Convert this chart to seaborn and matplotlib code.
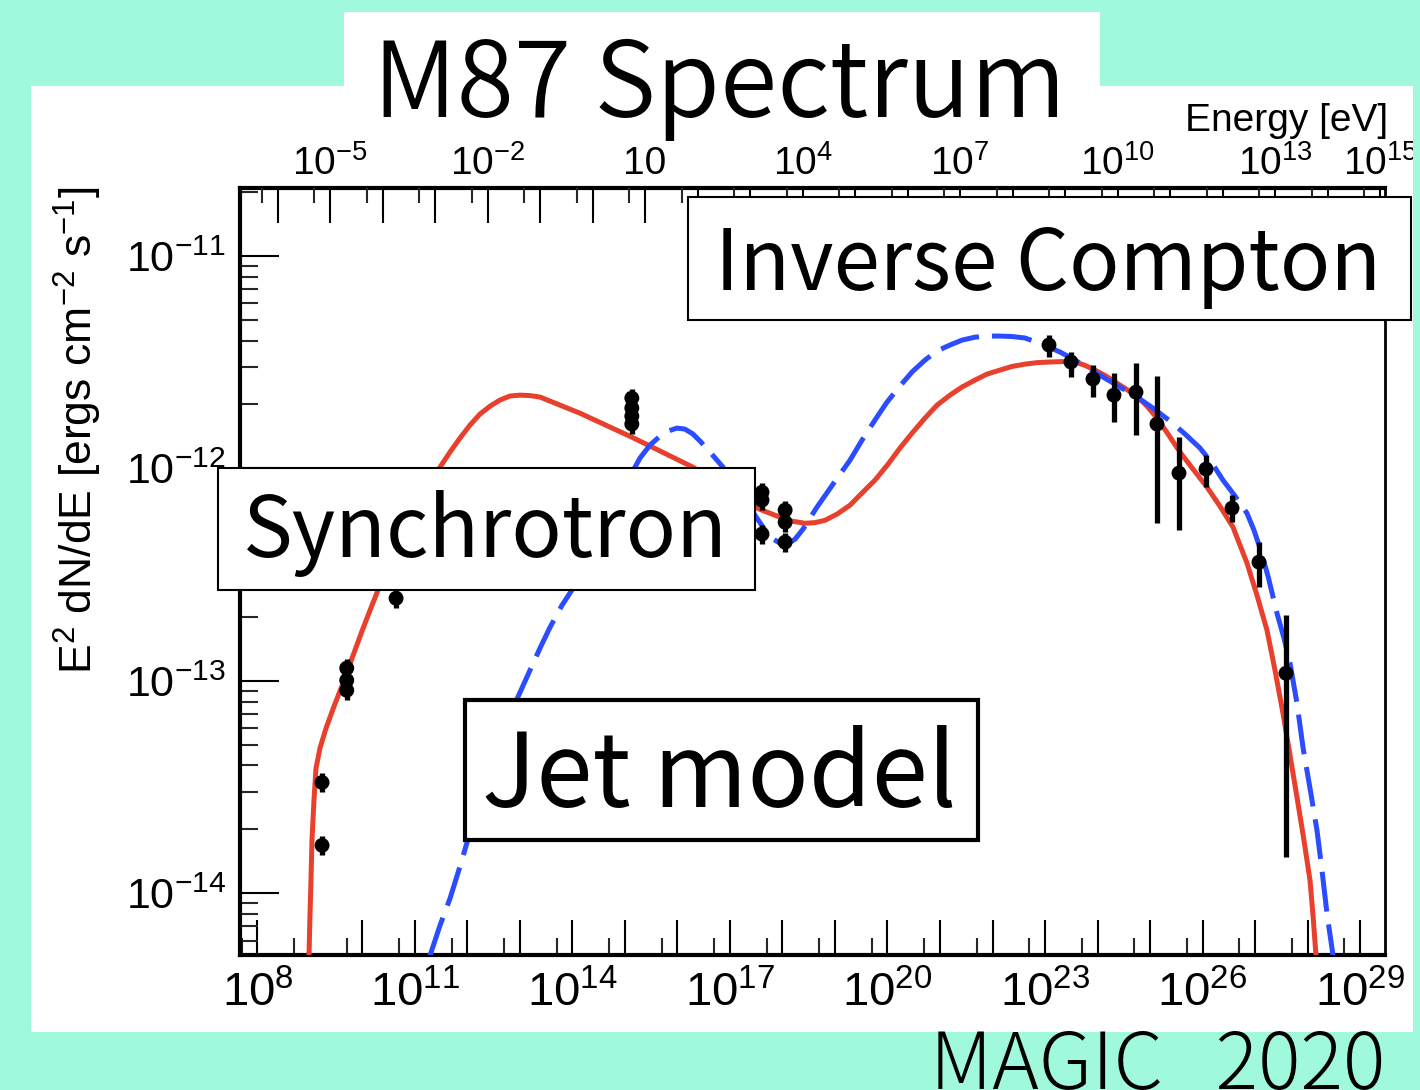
import numpy as np
import pandas as pd
import matplotlib
matplotlib.use("Agg")
import matplotlib.pyplot as plt
import seaborn as sns
from matplotlib import font_manager as fm
from matplotlib.patches import Rectangle
from matplotlib.ticker import FixedLocator, FuncFormatter

# ---------------- data ----------------
# model curves: log10(frequency / Hz), log10(E^2 dN/dE / erg cm^-2 s^-1)
red_lognu = [8.981, 9.000, 9.019, 9.038, 9.076, 9.114, 9.190, 9.305, 9.457, 9.629,
             9.800, 9.990, 10.181, 10.371, 10.619, 11.000, 11.476, 11.667, 11.857,
             12.048, 12.238, 12.429, 12.619, 12.810, 13.000, 13.190, 13.381, 13.762,
             14.143, 15.133, 16.295, 17.000, 17.514, 17.762, 17.952, 18.181, 18.429,
             18.619, 18.810, 19.038, 19.286, 19.514, 19.762, 20.010, 20.238, 20.467,
             20.714, 20.943, 21.190, 21.419, 21.667, 21.895, 22.143, 22.371, 22.619,
             22.848, 23.095, 23.324, 23.571, 23.743, 23.914, 24.162, 24.429, 24.752,
             24.943, 25.133, 25.343, 25.571, 25.819, 26.086, 26.333, 26.581, 26.714,
             26.848, 27.038, 27.229, 27.381, 27.533, 27.667, 27.800, 27.933, 28.048,
             28.105, 28.162]
red_logflux = [-14.293, -14.104, -13.939, -13.751, -13.562, -13.412, -13.317, -13.223,
               -13.120, -13.011, -12.894, -12.766, -12.644, -12.526, -12.394, -12.211,
               -11.994, -11.923, -11.857, -11.796, -11.744, -11.707, -11.678, -11.659,
               -11.655, -11.657, -11.664, -11.702, -11.740, -11.853, -11.994, -12.102,
               -12.187, -12.211, -12.229, -12.248, -12.258, -12.255, -12.244, -12.215,
               -12.173, -12.116, -12.055, -11.980, -11.904, -11.834, -11.763, -11.702,
               -11.655, -11.617, -11.584, -11.556, -11.537, -11.520, -11.509, -11.502,
               -11.499, -11.497, -11.499, -11.513, -11.532, -11.565, -11.608, -11.659,
               -11.707, -11.763, -11.838, -11.923, -12.003, -12.088, -12.178, -12.276,
               -12.361, -12.446, -12.597, -12.762, -12.950, -13.153, -13.350, -13.548,
               -13.751, -13.939, -14.104, -14.293]

blue_lognu = [11.286, 11.476, 11.667, 11.857, 12.048, 12.238, 12.429, 12.619, 12.810,
              13.000, 13.190, 13.381, 13.571, 13.800, 14.048, 14.333, 14.619, 14.905,
              15.190, 15.286, 15.476, 15.667, 15.819, 15.990, 16.143, 16.295, 16.429,
              16.619, 16.867, 17.190, 17.514, 17.667, 17.800, 17.952, 18.086, 18.238,
              18.390, 18.657, 18.962, 19.286, 19.514, 19.762, 19.990, 20.238, 20.467,
              20.714, 20.943, 21.190, 21.419, 21.667, 21.895, 22.143, 22.371, 22.619,
              22.943, 23.286, 23.533, 23.800, 24.105, 24.429, 24.752, 25.057, 25.381,
              25.667, 25.952, 26.181, 26.390, 26.619, 26.848, 26.981, 27.095, 27.248,
              27.419, 27.552, 27.667, 27.800, 27.914, 28.048, 28.181, 28.276, 28.371,
              28.486]
blue_logflux = [-14.293, -14.151, -14.024, -13.873, -13.713, -13.553, -13.402, -13.270,
                -13.157, -13.054, -12.950, -12.846, -12.748, -12.644, -12.550, -12.432,
                -12.291, -12.149, -11.994, -11.951, -11.890, -11.848, -11.824, -11.810,
                -11.815, -11.838, -11.871, -11.923, -11.994, -12.116, -12.234, -12.291,
                -12.328, -12.352, -12.357, -12.333, -12.286, -12.182, -12.074, -11.961,
                -11.867, -11.772, -11.688, -11.612, -11.546, -11.490, -11.447, -11.419,
                -11.396, -11.382, -11.377, -11.377, -11.379, -11.386, -11.415, -11.452,
                -11.485, -11.523, -11.570, -11.617, -11.664, -11.716, -11.777, -11.838,
                -11.904, -11.975, -12.055, -12.130, -12.211, -12.291, -12.375, -12.507,
                -12.682, -12.799, -12.917, -13.106, -13.313, -13.506, -13.704, -13.892,
                -14.095, -14.293]

# radio / optical / X-ray measurements
mwl_lognu = [9.23, 9.23, 9.70, 9.70, 9.70, 10.64, 15.13, 15.13, 15.13, 15.13,
             17.61, 17.61, 17.61, 18.05, 18.05, 18.05]
mwl_logflux = [-13.478, -13.774, -12.940, -12.997, -13.044, -12.611, -11.669, -11.716,
               -11.754, -11.791, -12.112, -12.149, -12.309, -12.196, -12.253, -12.347]
mwl_logerr = 0.045

# gamma-ray measurements (value, upper end, lower end of error bar)
gam_lognu = [23.076, 23.495, 23.914, 24.314, 24.733, 25.133, 25.552, 26.067, 26.562,
             27.076, 27.590]
gam_logflux = [-11.419, -11.499, -11.579, -11.655, -11.641, -11.791, -12.022, -12.003,
               -12.187, -12.441, -12.964]
gam_loghi = [-11.372, -11.452, -11.513, -11.551, -11.504, -11.565, -11.853, -11.937,
             -12.126, -12.347, -12.691]
gam_loglo = [-11.476, -11.570, -11.664, -11.782, -11.843, -12.258, -12.291, -12.088,
             -12.253, -12.559, -13.831]

bottom_label_exps = [8, 11, 14, 17, 20, 23, 26, 29]
top_label_exps = [-5, -2, 1, 4, 7, 10, 13, 15]
y_label_exps = [-11, -12, -13, -14]

title_text = "M87 Spectrum"
box_texts = ["Inverse Compton", "Synchrotron", "Jet model"]
footer_text = "MAGIC   2020"
xlabel_top = "Energy [eV]"

H_EV = 4.135667e-15  # Planck constant, eV s

# ---------------- style ----------------
W, H = 1420, 1090
MINT = "#a0f9dc"
RED = "#e8402c"
BLUE = "#2b4cff"

sns.set_theme(style="ticks")


def has_font(name):
    try:
        fm.findfont(fm.FontProperties(family=name), fallback_to_default=False)
        return True
    except Exception:
        return False


HELV = "Liberation Sans"
NARROW = "Liberation Sans Narrow" if has_font("Liberation Sans Narrow") else HELV
JP = "Noto Sans CJK JP"

plt.rcParams["font.family"] = [HELV, "DejaVu Sans"]
plt.rcParams["mathtext.fontset"] = "custom"
plt.rcParams["mathtext.rm"] = HELV
plt.rcParams["mathtext.it"] = HELV
plt.rcParams["mathtext.bf"] = HELV
plt.rcParams["mathtext.sf"] = NARROW


def fx(x):
    return x / W


def fy(y):
    return 1 - y / H


fig = plt.figure(figsize=(W / 100, H / 100), dpi=100, facecolor=MINT)

# white panel + title tab
fig.patches.append(Rectangle((fx(31), fy(1032)), (1413 - 31) / W, (1032 - 86) / H,
                             transform=fig.transFigure, facecolor="white",
                             edgecolor="none", zorder=-2))
fig.patches.append(Rectangle((fx(344), fy(100)), (1100 - 344) / W, (100 - 12) / H,
                             transform=fig.transFigure, facecolor="white",
                             edgecolor="none", zorder=-2))

ax = fig.add_axes([fx(240), fy(955), (1385 - 240) / W, (955 - 188) / H])
ax.set_facecolor("white")
ax.set_xscale("log")
ax.set_yscale("log")
xlim = (10 ** 7.667, 10 ** 29.476)
ax.set_xlim(*xlim)
ax.set_ylim(10 ** -14.29, 10 ** -10.68)
ax.grid(False)

red_df = pd.DataFrame({"nu": 10 ** np.array(red_lognu), "f": 10 ** np.array(red_logflux)})
blue_df = pd.DataFrame({"nu": 10 ** np.array(blue_lognu), "f": 10 ** np.array(blue_logflux)})
sns.lineplot(data=red_df, x="nu", y="f", sort=False, estimator=None, color=RED,
             linewidth=3.6, ax=ax, zorder=3)
sns.lineplot(data=blue_df, x="nu", y="f", sort=False, estimator=None, color=BLUE,
             linewidth=3.6, linestyle=(0, (8, 2.6)), ax=ax, zorder=3)

# measurements
mx = 10 ** np.array(mwl_lognu)
my = 10 ** np.array(mwl_logflux)
ax.errorbar(mx, my, yerr=[my - my * 10 ** -mwl_logerr, my * 10 ** mwl_logerr - my],
            fmt="none", ecolor="black", elinewidth=3.8, capsize=0, zorder=4)
gx = 10 ** np.array(gam_lognu)
gy = 10 ** np.array(gam_logflux)
ghi = 10 ** np.array(gam_loghi)
glo = 10 ** np.array(gam_loglo)
ax.errorbar(gx, gy, yerr=[gy - glo, ghi - gy], fmt="none", ecolor="black",
            elinewidth=3.8, capsize=0, zorder=4)
pts = pd.DataFrame({"nu": np.concatenate([mx, gx]), "f": np.concatenate([my, gy])})
sns.scatterplot(data=pts, x="nu", y="f", color="black", s=115, edgecolor="none",
                ax=ax, zorder=5)
ax.set_xlabel("")
ax.set_ylabel("")

# bottom axis ticks
ax.xaxis.set_major_locator(FixedLocator(10.0 ** np.arange(7, 31)))
ax.xaxis.set_minor_locator(FixedLocator(5 * 10.0 ** np.arange(7, 30)))


def bottom_fmt(v, pos):
    e = int(round(np.log10(v)))
    return r"$\mathsf{10^{%d}}$" % e if e in bottom_label_exps else ""


ax.xaxis.set_major_formatter(FuncFormatter(bottom_fmt))
ax.xaxis.set_minor_formatter(FuncFormatter(lambda v, p: ""))
ax.tick_params(axis="x", which="major", direction="in", length=25, width=1.5,
               top=False, bottom=True, labelsize=34, pad=12, colors="black")
ax.tick_params(axis="x", which="minor", direction="in", length=12, width=1.5,
               top=False, bottom=True)

# y axis ticks
ax.yaxis.set_major_locator(FixedLocator(10.0 ** np.arange(-15, -9)))
ax.yaxis.set_minor_locator(FixedLocator(
    np.concatenate([k * 10.0 ** np.arange(-15, -10) for k in range(2, 10)])))


def y_fmt(v, pos):
    e = int(round(np.log10(v)))
    return r"$10^{%d}$" % e if e in y_label_exps else ""


ax.yaxis.set_major_formatter(FuncFormatter(y_fmt))
ax.yaxis.set_minor_formatter(FuncFormatter(lambda v, p: ""))
ax.tick_params(axis="y", which="major", direction="in", length=28, width=1.5,
               left=True, right=False, labelsize=31, pad=10, colors="black")
ax.tick_params(axis="y", which="minor", direction="in", length=13, width=1.5,
               left=True, right=False)

for side, lw in [("left", 3.0), ("bottom", 3.0), ("top", 3.0), ("right", 2.0)]:
    ax.spines[side].set_visible(True)
    ax.spines[side].set_linewidth(lw)
    ax.spines[side].set_color("black")

# top energy axis
ax2 = ax.twiny()
ax2.set_xscale("log")
ax2.set_xlim(H_EV * xlim[0], H_EV * xlim[1])
ax2.xaxis.set_major_locator(FixedLocator(10.0 ** np.arange(-8, 17)))
ax2.xaxis.set_minor_locator(FixedLocator(5 * 10.0 ** np.arange(-8, 16)))


def top_fmt(v, pos):
    e = int(round(np.log10(v)))
    if e not in top_label_exps:
        return ""
    return "10" if e == 1 else r"$10^{%d}$" % e


ax2.xaxis.set_major_formatter(FuncFormatter(top_fmt))
ax2.xaxis.set_minor_formatter(FuncFormatter(lambda v, p: ""))
ax2.tick_params(axis="x", which="major", direction="in", length=25, width=1.5,
                top=True, bottom=False, labeltop=True, labelbottom=False,
                labelsize=28, pad=4, colors="black")
ax2.tick_params(axis="x", which="minor", direction="in", length=11, width=1.5,
                top=True, bottom=False)
ax2.grid(False)
for side in ax2.spines:
    ax2.spines[side].set_visible(False)

# axis titles
fig.text(fx(1388), fy(131), xlabel_top, ha="right", va="baseline", fontsize=28,
         color="black", family=[HELV, "DejaVu Sans"])
fig.text(fx(78), fy(430), r"$\mathsf{E^{2}\ dN/dE\ [ergs\ cm^{-2}\ s^{-1}]}$",
         rotation=90, ha="center", va="center", fontsize=32, color="black")

# annotation boxes
boxes = [
    # text, (x0, y0, x1, y1) px, text centre x, baseline y, fontsize, edge width
    (box_texts[0], (688, 197, 1411, 320), 1048, 290, 60, 1.5),
    (box_texts[1], (218, 468, 755, 590), 485, 557, 60, 1.5),
    (box_texts[2], (465, 700, 978, 840), 719, 807, 73, 3.0),
]
for txt, (x0, y0, x1, y1), tx, ty, fs, elw in boxes:
    fig.patches.append(Rectangle((fx(x0), fy(y1)), (x1 - x0) / W, (y1 - y0) / H,
                                 transform=fig.transFigure, facecolor="white",
                                 edgecolor="black", linewidth=elw, zorder=10))
    fig.text(fx(tx), fy(ty), txt, ha="center", va="baseline", fontsize=fs,
             color="black", family=[JP, "DejaVu Sans"], zorder=11)

fig.text(fx(720), fy(117), title_text, ha="center", va="baseline", fontsize=75,
         color="black", family=[JP, "DejaVu Sans"], fontweight=350, zorder=11)
fig.text(fx(930), fy(1089), footer_text, ha="left", va="baseline", fontsize=57,
         color="black", family=[JP, "DejaVu Sans"], fontweight="light", zorder=11)

# mint strip that clips the right-most top label like the reference
fig.patches.append(Rectangle((fx(1413), 0), (W - 1413) / W, 1, transform=fig.transFigure,
                             facecolor=MINT, edgecolor="none", zorder=20))

fig.savefig("out.png", dpi=100, facecolor=MINT)
